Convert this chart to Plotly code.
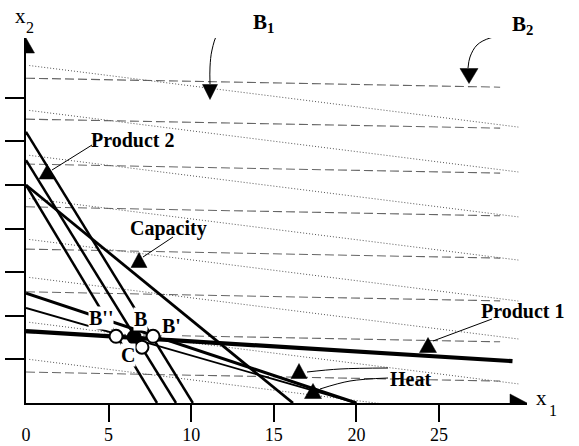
import plotly.graph_objects as go

# ---------------- data ----------------
x_ticks = [0, 5, 10, 15, 20, 25]
x_tick_marks = [5, 10, 15, 20, 25]
y_tick_marks = [1, 2, 3, 4, 5, 6, 7]

# Product 2 constraint lines (three parallel positions): axis intercepts
product2_x_int = [7.93, 9.08, 10.10]
product2_y_int = [5.00, 5.57, 6.22]
# Capacity constraint
capacity_x_int = 16.16
capacity_y_int = 5.00
# Heat constraints
heat_x_int = [20.0, 20.0]
heat_y_int = [2.52, 2.18]
# Product 1 constraint
product1_x = [0.0, 29.45]
product1_y = [1.65, 0.96]

# objective contours B1 (dashed) and B2 (dotted)
b1_y0 = [7.45, 6.51, 5.48, 4.50, 3.53, 2.55, 1.61, 0.71]
b1_slope = -0.0072
b1_x_end = 28.7
b2_y0 = [7.75, 6.72, 5.69, 4.70, 3.76, 2.89, 1.86, 1.01]
b2_slope = -0.0477
b2_x_start = 0.2
b2_x_end = 29.8

# operating points
pt_names = ["B''", "B", "B'", "C"]
pt_x = [5.45, 6.55, 7.69, 7.02]
pt_y = [1.53, 1.51, 1.53, 1.28]
pt_filled = [False, True, False, False]

# ---------------- pixel <-> data helpers (layout only) ----------------
W, H = 579, 446
L_M, R_M, T_M, B_M = 26, 52, 38, 43
PW, PH = W - L_M - R_M, H - T_M - B_M
SX = 16.52   # px per x unit
SY = 43.6    # px per y unit
X_MAX = PW / SX
Y_MAX = PH / SY


def dx(px):
    return (px - L_M) / SX


def dy(py):
    return (H - B_M - py) / SY


def fx(px):
    return (px - L_M) / PW


def fy(py):
    return (H - B_M - py) / PH


fig = go.Figure()


def add_line(xs, ys, width, dash="solid", color="black", shape="linear"):
    fig.add_trace(go.Scatter(x=xs, y=ys, mode="lines",
                             line=dict(color=color, width=width, dash=dash, shape=shape),
                             hoverinfo="skip", showlegend=False))


def add_triangle(cx_px, cy_px, w, h, direction):
    cx, cy = dx(cx_px), dy(cy_px)
    hw, hh = w / 2 / SX, h / 2 / SY
    if direction == "up":
        xs = [cx - hw, cx + hw, cx, cx - hw]
        ys = [cy - hh, cy - hh, cy + hh, cy - hh]
    elif direction == "down":
        xs = [cx - hw, cx + hw, cx, cx - hw]
        ys = [cy + hh, cy + hh, cy - hh, cy + hh]
    else:  # right
        xs = [cx - hw, cx - hw, cx + hw, cx - hw]
        ys = [cy - hh, cy + hh, cy, cy - hh]
    fig.add_trace(go.Scatter(x=xs, y=ys, mode="lines", fill="toself",
                             fillcolor="black", line=dict(color="black", width=0.5),
                             hoverinfo="skip", showlegend=False))


# objective contour lines
for y0 in b1_y0:
    add_line([0, b1_x_end], [y0, y0 + b1_slope * b1_x_end], 1.1, dash="9px,4px", color="#666666")
for y0 in b2_y0:
    add_line([b2_x_start, b2_x_end],
             [y0 + b2_slope * b2_x_start, y0 + b2_slope * b2_x_end], 1.0, dash="1px,2px", color="#555555")

# constraint lines
for xi, yi in zip(product2_x_int, product2_y_int):
    add_line([0, xi], [yi, 0], 2.5)
add_line([0, capacity_x_int], [capacity_y_int, 0], 2.8)
add_line([0, heat_x_int[0]], [heat_y_int[0], 0], 3.0)
add_line([0, heat_x_int[1]], [heat_y_int[1], 0], 1.8)
add_line(product1_x, product1_y, 4.2)

# connector lines for labels
add_line([dx(92), dx(52)], [dy(145), dy(170)], 1)
add_line([dx(173), dx(143)], [dy(237), dy(257)], 1)
add_line([dx(492), dx(433)], [dy(319), dy(341)], 1)
add_line([dx(p) for p in (307, 340, 388)], [dy(p) for p in (372, 369, 368)], 1, shape="spline")
add_line([dx(p) for p in (320, 350, 388)], [dy(p) for p in (389, 381, 378)], 1, shape="spline")
add_line([dx(p) for p in (245, 230, 218, 212, 210, 210)],
         [dy(p) for p in (20, 23, 33, 50, 67, 84)], 1, shape="spline")
add_line([dx(p) for p in (510, 490, 477, 470, 468)],
         [dy(p) for p in (35, 38, 45, 57, 68)], 1, shape="spline")

# triangles
add_triangle(47, 172, 16, 14, "up")
add_triangle(139, 260, 16, 15, "up")
add_triangle(428, 345, 17, 15, "up")
add_triangle(299, 371, 16, 15, "up")
add_triangle(313, 391, 17, 15, "up")
add_triangle(210, 92, 15, 15, "down")
add_triangle(469, 76, 18, 15, "down")
add_triangle(26, 45.5, 17, 15, "up")
add_triangle(518.5, 403, 17, 18, "right")

# operating points
fig.add_trace(go.Scatter(
    x=pt_x, y=pt_y, mode="markers",
    marker=dict(size=13,
                color=["black" if f else "white" for f in pt_filled],
                line=dict(color="black", width=2)),
    cliponaxis=False, hoverinfo="skip", showlegend=False))

# helper trace for the label axis
fig.add_trace(go.Scatter(x=[0], y=[0], xaxis="x2", mode="markers",
                         marker=dict(opacity=0), hoverinfo="skip", showlegend=False))

SERIF = "Liberation Serif, Times New Roman, serif"
ann = []


def label(text, px, py, size=20, bold=True, bg=None):
    a = dict(x=fx(px), y=fy(py), xref="paper", yref="paper", showarrow=False,
             text=("<b>%s</b>" % text) if bold else text,
             font=dict(family=SERIF, size=size, color="black"),
             xanchor="center", yanchor="middle")
    if bg:
        a["bgcolor"] = bg
        a["borderpad"] = 0
    ann.append(a)


label("Product 2", 133, 140)
label("Capacity", 168, 229)
label("Product 1", 523, 311)
label("Heat", 410, 379)
label("B''", 101, 318, bg="white")
label("B", 140, 319, bg="white")
label("B'", 171, 326, bg="white")
label("C", 128, 355, bg="white")
label("B<sub>1</sub>", 263, 23, size=21)
label("B<sub>2</sub>", 522, 25, size=21)
label("x", 20, 16, size=21, bold=False)
label("2", 30, 27, size=16, bold=False)
label("x", 541, 398, size=21, bold=False)
label("1", 553, 410, size=16, bold=False)

fig.update_layout(
    template="none",
    width=W, height=H,
    margin=dict(l=L_M, r=R_M, t=T_M, b=B_M, autoexpand=False),
    paper_bgcolor="white", plot_bgcolor="white",
    annotations=ann,
    xaxis=dict(range=[0, X_MAX], showgrid=False, zeroline=False, automargin=False,
               showline=True, linecolor="black", linewidth=2,
               tickvals=x_tick_marks, ticks="outside", ticklen=17, tickwidth=2,
               tickcolor="black", showticklabels=False, fixedrange=True),
    xaxis2=dict(range=[0, X_MAX], overlaying="x", side="bottom", anchor="y",
                showgrid=False, zeroline=False, showline=False, automargin=False,
                tickvals=x_ticks, ticks="", ticklabelstandoff=19,
                tickfont=dict(family=SERIF, size=18, color="black"), fixedrange=True),
    yaxis=dict(range=[0, Y_MAX], showgrid=False, zeroline=False, automargin=False,
               showline=True, linecolor="black", linewidth=2,
               tickvals=y_tick_marks, ticks="outside", ticklen=19, tickwidth=2,
               tickcolor="black", showticklabels=False, fixedrange=True),
)

fig.write_html("out.html", config={"displayModeBar": False},
               post_script="document.body.style.margin='0';document.body.style.overflow='hidden';")
